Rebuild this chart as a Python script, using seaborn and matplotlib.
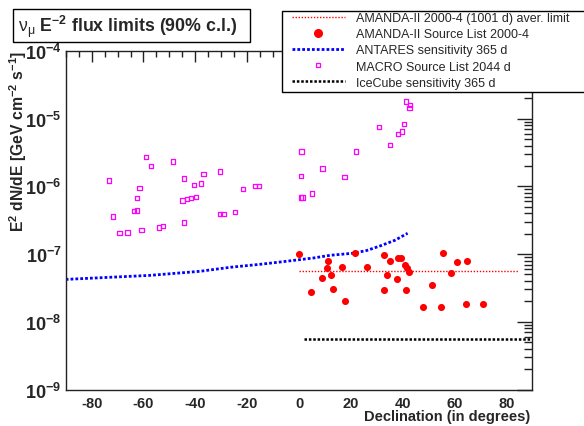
import matplotlib
matplotlib.use("Agg")
import matplotlib.pyplot as plt
import matplotlib.ticker as mticker
from matplotlib.patches import Rectangle
from matplotlib.lines import Line2D
import seaborn as sns
import pandas as pd
import numpy as np

# ---------------- data ----------------
amanda_dec = [0.0, 4.7, 9.0, 10.7, 11.3, 12.3, 13.2, 16.5, 17.9, 21.7, 26.4, 32.8, 32.8,
              34.1, 35.1, 37.9, 38.3, 39.5, 41.0, 41.3, 41.6, 42.6, 47.7, 51.4, 54.7,
              55.7, 58.5, 60.8, 64.4, 64.7, 70.9]
amanda_flux = [1.00e-7, 2.75e-8, 4.49e-8, 6.22e-8, 7.9e-8, 4.91e-8, 3.01e-8, 6.53e-8, 2.02e-8,
               1.04e-7, 6.53e-8, 9.7e-8, 2.91e-8, 4.91e-8, 7.8e-8, 4.23e-8, 8.7e-8, 8.7e-8,
               7.0e-8, 2.91e-8, 6.22e-8, 5.51e-8, 1.63e-8, 3.54e-8, 1.63e-8, 1.04e-7,
               5.25e-8, 7.64e-8, 1.85e-8, 7.8e-8, 1.85e-8]

macro_dec = [-73.3, -59.0, -57.1, -48.6, -61.6, -62.4, -63.7, -62.5, -71.8, -69.2, -66.2,
             -60.7, -53.9, -52.5, -44.4, -44.4, -45.0, -43.2, -41.7, -39.7, -40.5, -37.9,
             -36.9, -30.4, -30.5, -29.1, -24.8, -21.6, -17.0, -15.5, 1.0, 0.7, 0.8, 1.4,
             4.9, 9.0, 17.6, 21.9, 30.9, 35.1, 38.1, 39.7, 40.6, 41.3, 42.9, 42.6]
macro_flux = [1.22e-6, 2.73e-6, 2.01e-6, 2.33e-6, 9.5e-7, 6.8e-7, 4.3e-7, 4.4e-7, 3.59e-7,
              2.03e-7, 2.08e-7, 2.25e-7, 2.47e-7, 2.61e-7, 1.31e-6, 2.92e-7, 6.2e-7, 6.5e-7,
              6.8e-7, 7.0e-7, 1.04e-6, 1.11e-6, 1.51e-6, 1.66e-6, 3.88e-7, 3.88e-7, 4.15e-7,
              9.2e-7, 1.02e-6, 1.02e-6, 3.28e-6, 1.42e-6, 6.9e-7, 6.9e-7, 7.9e-7, 1.84e-6,
              1.38e-6, 3.28e-6, 7.5e-6, 4.07e-6, 5.98e-6, 6.5e-6, 8.3e-6, 1.80e-5, 1.59e-5,
              1.44e-5]

antares_dec = [-90.0, -57.5, -38.2, -26.6, -15.0, -7.3, 5.5, 12.0, 20.9, 26.1, 31.3, 37.0, 41.9]
antares_flux = [4.23e-8, 4.85e-8, 5.57e-8, 6.38e-8, 7.07e-8, 7.64e-8, 8.75e-8, 9.6e-8,
                1.03e-7, 1.13e-7, 1.32e-7, 1.60e-7, 2.03e-7]

avg_dec = [0.0, 85.0]
avg_flux = [5.6e-8, 5.6e-8]

icecube_dec = [1.8, 90.0]
icecube_flux = [5.6e-9, 5.6e-9]

legend_labels = ["AMANDA-II 2000-4 (1001 d) aver. limit",
                 "AMANDA-II Source List 2000-4",
                 "ANTARES sensitivity 365 d",
                 "MACRO Source List 2044 d",
                 "IceCube sensitivity 365 d"]
title_text = r"$\mathrm{\nu}_{\mathrm{\mu}}$ E$^{\mathbf{-2}}$ flux limits (90% c.l.)"
xlabel_text = "Declination (in degrees)"
ylabel_text = r"E$^{\mathbf{2}}$ dN/dE [GeV cm$^{\mathbf{-2}}$ s$^{\mathbf{-1}}$]"

# ---------------- style ----------------
sns.set_style("white")
plt.rcParams["font.family"] = ["Liberation Sans", "DejaVu Sans"]
plt.rcParams["mathtext.fontset"] = "custom"
plt.rcParams["mathtext.rm"] = "Liberation Sans"
plt.rcParams["mathtext.bf"] = "Liberation Sans:bold"
plt.rcParams["mathtext.it"] = "Liberation Sans:italic"

W, H = 584, 427
fig = plt.figure(figsize=(W / 100, H / 100), dpi=100)
fig.patch.set_facecolor("white")

L, R, T, B = 65.7, 532.3, 52.0, 390.5
ax = fig.add_axes([L / W, 1 - B / H, (R - L) / W, (B - T) / H])

df_am = pd.DataFrame({"dec": amanda_dec, "flux": amanda_flux})
df_ma = pd.DataFrame({"dec": macro_dec, "flux": macro_flux})
df_an = pd.DataFrame({"dec": antares_dec, "flux": antares_flux})
df_avg = pd.DataFrame({"dec": avg_dec, "flux": avg_flux})
df_ic = pd.DataFrame({"dec": icecube_dec, "flux": icecube_flux})

sns.lineplot(data=df_avg, x="dec", y="flux", ax=ax, color="#ff0000", lw=1.0,
             linestyle=(0, (1, 1.2)), sort=False, estimator=None)
sns.lineplot(data=df_an, x="dec", y="flux", ax=ax, color="#0000ff", lw=2.0,
             linestyle=(0, (1, 0.75)), sort=False, estimator=None)
sns.lineplot(data=df_ic, x="dec", y="flux", ax=ax, color="#000000", lw=1.8,
             linestyle=(0, (1, 0.75)), sort=False, estimator=None)
sns.scatterplot(data=df_ma, x="dec", y="flux", ax=ax, marker="s", s=10,
                facecolors="none", edgecolors="#ff00ff", linewidth=0.9, zorder=3)
sns.scatterplot(data=df_am, x="dec", y="flux", ax=ax, marker="o", s=26,
                color="#ff0000", edgecolor="#ff0000", linewidth=0, zorder=4)

ax.set_yscale("log")
ax.set_xlim(-90, 90)
ax.set_ylim(1e-9, 1e-4)
ax.set_xlabel("")
ax.set_ylabel("")
ax.xaxis.label.set_visible(False)
ax.yaxis.label.set_visible(False)

ax.xaxis.set_major_locator(mticker.FixedLocator([-80, -60, -40, -20, 0, 20, 40, 60, 80]))
ax.xaxis.set_minor_locator(mticker.MultipleLocator(5))
ax.yaxis.set_major_locator(mticker.FixedLocator([1e-9, 1e-8, 1e-7, 1e-6, 1e-5, 1e-4]))
ax.yaxis.set_minor_locator(mticker.LogLocator(base=10, subs=np.arange(2, 10), numticks=20))
ax.yaxis.set_minor_formatter(mticker.NullFormatter())
ax.yaxis.set_major_formatter(mticker.FuncFormatter(
    lambda v, p: r"$\mathbf{10^{%d}}$" % int(round(np.log10(v)))))
ax.xaxis.set_major_formatter(mticker.FuncFormatter(lambda v, p: "%d" % v))

ax.tick_params(axis="both", which="both", direction="in", top=True, right=True,
               color="#222222", width=1.0)
ax.tick_params(axis="x", which="major", length=8, labelsize=10.5, pad=5)
ax.tick_params(axis="x", which="minor", length=4)
ax.tick_params(axis="y", which="major", length=11, labelsize=13, pad=3)
ax.tick_params(axis="y", which="minor", length=5.5)
for lab in ax.get_xticklabels():
    lab.set_fontweight("bold")
for sp in ax.spines.values():
    sp.set_color("#222222")
    sp.set_linewidth(1.0)
if ax.get_legend():
    ax.get_legend().remove()

# axis titles
fig.text(530 / W, 1 - 417.5 / H, xlabel_text, ha="right", va="center",
         fontsize=10.5, fontweight="bold")
fig.text(18 / W, 1 - 51 / H, ylabel_text, ha="center", va="top", rotation=90,
         fontsize=11.3, fontweight="bold")

# title box
fig.patches.append(Rectangle((13.3 / W, 1 - 42.7 / H), (250 - 13.3) / W, (42.7 - 10) / H,
                             transform=fig.transFigure, facecolor="white",
                             edgecolor="black", lw=1.0, zorder=4.5))
fig.text(18 / W, 1 - 27 / H, title_text, ha="left", va="center", fontsize=12.8,
         fontweight="bold", zorder=4.6)

# legend box
fig.patches.append(Rectangle((282.3 / W, 1 - 92.7 / H), (600 - 282.3) / W, (92.7 - 11.7) / H,
                             transform=fig.transFigure, facecolor="white",
                             edgecolor="black", lw=1.0, zorder=4.8))
handles = [
    Line2D([], [], color="#ff0000", lw=1.0, linestyle=(0, (1, 1.2))),
    Line2D([], [], color="#ff0000", marker="o", markersize=5.5, linestyle="none"),
    Line2D([], [], color="#0000ff", lw=2.0, linestyle=(0, (1, 0.75))),
    Line2D([], [], color="#ff00ff", marker="s", markersize=3.2, markerfacecolor="none",
           markeredgewidth=0.9, linestyle="none"),
    Line2D([], [], color="#000000", lw=1.8, linestyle=(0, (1, 0.75))),
]
leg = fig.legend(handles, legend_labels, loc="upper left",
                 bbox_to_anchor=(291.5 / W, 1 - 13.2 / H), frameon=False,
                 fontsize=9.0, handlelength=4.25, handletextpad=0.95,
                 labelspacing=0.33, borderpad=0, borderaxespad=0)
leg.set_zorder(5)

fig.savefig("out.png", dpi=100, facecolor="white")
